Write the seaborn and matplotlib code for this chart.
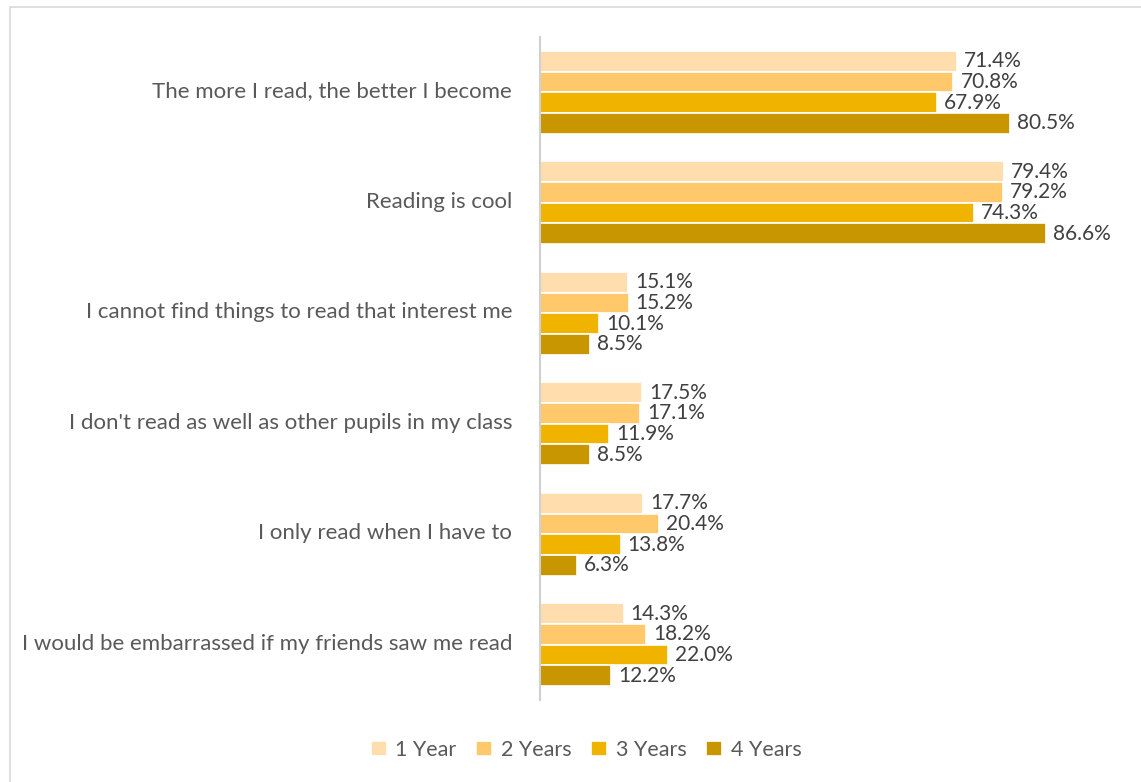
import matplotlib
matplotlib.use("Agg")
import matplotlib.pyplot as plt
import matplotlib.transforms as mtransforms
import seaborn as sns
import pandas as pd
from matplotlib.patches import Rectangle

statements = [
    "The more I read, the better I become",
    "Reading is cool",
    "I cannot find things to read that interest me",
    "I don't read as well as other pupils in my class",
    "I only read when I have to",
    "I would be embarrassed if my friends saw me read",
]
groups = ["1 Year", "2 Years", "3 Years", "4 Years"]
year1 = [71.4, 79.4, 15.1, 17.5, 17.7, 14.3]
year2 = [70.8, 79.2, 15.2, 17.1, 20.4, 18.2]
year3 = [67.9, 74.3, 10.1, 11.9, 13.8, 22.0]
year4 = [80.5, 86.6, 8.5, 8.5, 6.3, 12.2]
palette = ["#FFDDAD", "#FFC86B", "#F0B400", "#C79600"]

rows = []
for g, vals in zip(groups, [year1, year2, year3, year4]):
    for s, v in zip(statements, vals):
        rows.append({"statement": s, "group": g, "value": v})
df = pd.DataFrame(rows)

sns.set_theme(style="white")
plt.rcParams["font.family"] = ["Lato", "DejaVu Sans"]

fig = plt.figure(figsize=(11.41, 7.82), dpi=100)
ax = fig.add_axes([540 / 1141, 1 - 700 / 782, (1124 - 540) / 1141, (700 - 37) / 782])

sns.barplot(data=df, y="statement", x="value", hue="group", order=statements,
            hue_order=groups, palette=palette, orient="h", width=0.75,
            edgecolor="white", linewidth=1.2, saturation=1, ax=ax)

for cont in ax.containers:
    ax.bar_label(cont, fmt="%.1f%%", padding=5, fontsize=15, color="#404040")

ax.set_xlim(0, 100)
ax.set_xlabel("")
ax.set_ylabel("")
ax.set_xticks([])
for side in ["top", "right", "bottom"]:
    ax.spines[side].set_visible(False)
ax.spines["left"].set_color("#D0D0D0")
ax.spines["left"].set_linewidth(1.5)
ax.tick_params(axis="y", length=0, pad=20, labelsize=16, labelcolor="#595959")
shift = mtransforms.ScaledTranslation(0, 3 / 100, fig.dpi_scale_trans)
for lbl in ax.get_yticklabels():
    lbl.set_transform(lbl.get_transform() + shift)

leg = ax.legend(loc="center", bbox_to_anchor=(586 / 1141, 1 - 750 / 782),
                bbox_transform=fig.transFigure, ncol=4, frameon=False,
                fontsize=15.5, handlelength=0.75, handleheight=0.75,
                handletextpad=0.4, columnspacing=0.9)
for t in leg.get_texts():
    t.set_color("#595959")

fig.patches.append(Rectangle((10 / 1141, -0.05), 1.1, 1 - 7 / 782 + 0.05,
                             transform=fig.transFigure, fill=False,
                             edgecolor="#D9D9D9", linewidth=1.2))

fig.savefig("out.png", dpi=100)
